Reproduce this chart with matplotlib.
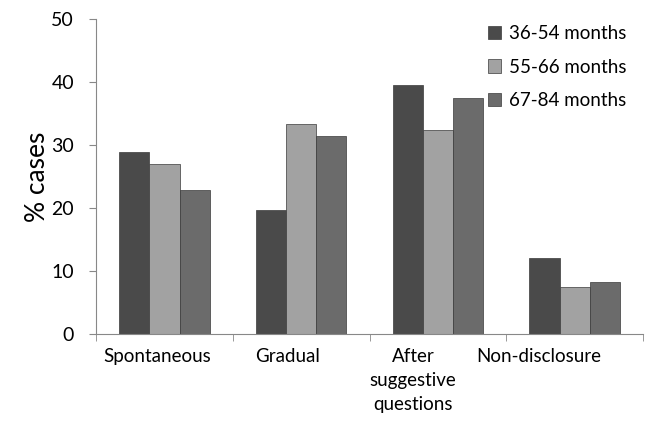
import numpy as np
import matplotlib.pyplot as plt
import matplotlib.transforms as mtransforms

plt.rcParams['font.family'] = ['Lato', 'DejaVu Sans']

categories = ['Spontaneous', 'Gradual', 'After\nsuggestive\nquestions', 'Non-disclosure']
groups = ['36-54 months', '55-66 months', '67-84 months']
vals_36_54 = [28.9, 19.7, 39.5, 12.0]
vals_55_66 = [26.9, 33.3, 32.4, 7.5]
vals_67_84 = [22.9, 31.4, 37.5, 8.2]
colors = ['#4a4a4a', '#a2a2a2', '#6b6b6b']

fig = plt.figure(figsize=(6.54, 4.28), dpi=100)
ax = fig.add_axes([0.147, 0.22, 0.836, 0.736])

x = np.arange(len(categories))
w = 0.22
for i, (vals, lab) in enumerate(zip([vals_36_54, vals_55_66, vals_67_84], groups)):
    ax.bar(x + (i - 1) * w, vals, w, color=colors[i], edgecolor='#3a3a3a',
           linewidth=0.5, label=lab)

ax.set_xlim(-0.5, 3.5)
ax.set_ylim(0, 50)
ax.set_yticks(range(0, 51, 10))
ax.set_xticks(x)
ax.set_xticklabels(categories, fontsize=13.5, linespacing=1.5)
ax.set_xticks(np.arange(-0.5, 4, 1), minor=True)
ax.tick_params(axis='x', which='major', length=0, pad=10)
ax.tick_params(axis='x', which='minor', length=5, color='#888888', direction='out')
ax.tick_params(axis='y', length=5, color='#888888', labelsize=14, pad=11)
ax.set_ylabel('% cases', fontsize=19, labelpad=1)

# labels sit a bit left of the group centres in the original
shifts = [-7, -14, -25, -36]
for lbl, dx in zip(ax.get_xticklabels(), shifts):
    lbl.set_transform(lbl.get_transform() +
                      mtransforms.ScaledTranslation(dx / 100, 0, fig.dpi_scale_trans))

for s in ['top', 'right']:
    ax.spines[s].set_visible(False)
for s in ['left', 'bottom']:
    ax.spines[s].set_color('#888888')

ax.legend(loc='upper right', bbox_to_anchor=(1.0, 1.035), frameon=False, fontsize=13.5,
          handlelength=0.7, handleheight=0.7, handletextpad=0.4, labelspacing=0.9)

fig.savefig('out.png', dpi=100)
